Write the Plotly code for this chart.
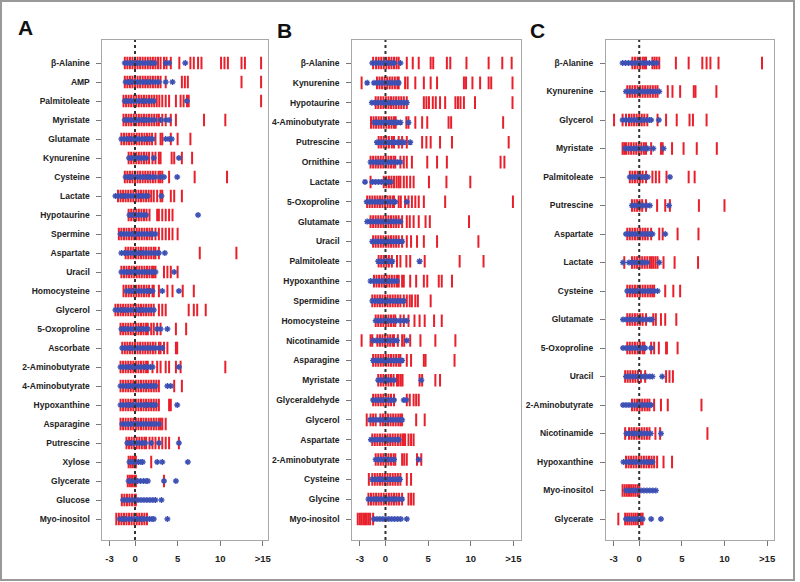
import plotly.graph_objects as go

# ---------------- Panel A ----------------
labels_A = ["β-Alanine", "AMP", "Palmitoleate", "Myristate", "Glutamate", "Kynurenine",
            "Cysteine", "Lactate", "Hypotaurine", "Spermine", "Aspartate", "Uracil",
            "Homocysteine", "Glycerol", "5-Oxoproline", "Ascorbate", "2-Aminobutyrate",
            "4-Aminobutyrate", "Hypoxanthine", "Asparagine", "Putrescine", "Xylose",
            "Glycerate", "Glucose", "Myo-inositol"]
red_A = [
    [-1.2,-0.9,-0.6,-0.3,0,0.3,0.6,0.9,1.2,1.5,1.8,2.1,2.4,2.7,3.0,3.4,3.7,4.2,5.2,6.5,6.9,7.4,7.8,10.1,10.5,10.9,12.5,12.9,14.8],
    [-1.2,-0.9,-0.6,-0.3,0,0.3,0.6,0.9,1.2,1.5,1.8,2.1,2.4,2.7,3.0,3.6,5.5,5.85,6.2,12.5,14.8],
    [-1.35,-1.05,-0.75,-0.45,-0.15,0.15,0.45,0.75,1.05,1.35,1.65,1.95,2.25,2.55,2.85,3.2,3.6,4.0,4.8,5.35,5.7,6.1,6.3,14.8],
    [-1.35,-1.05,-0.75,-0.45,-0.15,0.15,0.45,0.75,1.05,1.35,1.65,1.95,2.25,2.55,2.8,3.2,3.6,4.2,4.8,8.1,10.6],
    [-1.6,-1.3,-1.0,-0.7,-0.4,-0.1,0.2,0.5,0.8,1.1,1.4,1.7,2.0,2.4,3.0,3.2,4.2,5.0,6.5],
    [-0.75,-0.45,-0.15,0.15,0.45,0.75,1.05,1.35,1.65,2.05,2.4,2.8,3.0,4.3,4.6,5.5,6.7],
    [-1.2,-0.9,-0.6,-0.3,0,0.3,0.6,0.9,1.2,1.5,1.8,2.1,2.4,2.75,2.95,3.2,4.0,7.0,10.8],
    [-2.0,-1.7,-1.4,-1.1,-0.8,-0.5,-0.2,0.1,0.4,0.7,1.0,1.3,1.6,1.9,2.2,2.6,3.0,3.2,4.2,4.6,5.5],
    [-0.75,-0.45,-0.15,0.15,0.45,0.75,1.05,1.35,1.7,2.6,2.8,3.2,3.6,4.0,4.4],
    [-1.9,-1.6,-1.3,-1.0,-0.7,-0.4,-0.1,0.2,0.5,0.8,1.1,1.4,1.7,2.0,2.4,2.8,3.2,3.6,4.0,4.4,5.0],
    [-1.1,-0.8,-0.5,-0.2,0.1,0.4,0.7,1.0,1.3,1.6,1.9,2.2,2.4,2.8,7.6,11.9],
    [-1.6,-1.3,-1.0,-0.7,-0.4,-0.1,0.2,0.5,0.8,1.1,1.4,1.7,2.0,2.2,2.4,3.4,3.8,4.2,5.0],
    [-1.35,-1.05,-0.75,-0.45,-0.15,0.15,0.45,0.75,1.05,1.35,1.65,2.05,2.2,2.8,3.8,4.4,5.6,6.9],
    [-2.3,-2.0,-1.7,-1.4,-1.1,-0.8,-0.5,-0.2,0.1,0.4,0.7,1.0,1.3,1.6,1.9,2.2,2.8,3.2,3.6,6.3,6.9,7.3,8.3],
    [-1.7,-1.4,-1.1,-0.8,-0.5,-0.2,0.1,0.4,0.7,1.0,1.3,1.5,1.9,2.2,2.6,3.0,4.8,6.0],
    [-1.5,-1.2,-0.9,-0.6,-0.3,0,0.3,0.6,0.9,1.2,1.5,1.8,2.1,2.4,2.8,3.0,3.4,3.8,4.8,4.95],
    [-1.7,-1.4,-1.1,-0.8,-0.5,-0.2,0.1,0.4,0.7,1.0,1.3,1.5,2.05,2.6,3.0,3.6,4.0,4.8,5.35,10.6],
    [-1.7,-1.4,-1.1,-0.8,-0.5,-0.2,0.1,0.4,0.7,1.0,1.3,1.6,1.9,2.2,2.5,2.8,4.6,5.5],
    [-1.7,-1.4,-1.1,-0.8,-0.5,-0.2,0.1,0.4,0.7,1.0,1.3,1.6,1.9,2.2,2.5,2.8,4.0,4.2],
    [-1.7,-1.4,-1.1,-0.8,-0.5,-0.2,0.1,0.4,0.7,1.0,1.3,1.6,1.9,2.2,2.5,2.8,3.0,3.2,3.6],
    [-1.0,-0.7,-0.4,-0.1,0.2,0.5,0.8,1.1,1.3,1.7,2.05,2.4,2.8,3.2,3.6,4.0,5.15],
    [-0.75,-0.5,-0.25,0,0.1,1.9],
    [-0.85,-0.6,-0.35,-0.1,0.1,3.4],
    [-1.55,-1.25,-0.95,-0.65,-0.35,-0.05,0.1],
    [-2.2,-1.9,-1.6,-1.3,-1.0,-0.7,-0.4,-0.1,0.2,0.5,0.8,1.1,1.4],
]
blue_A = [
    [-1.2,-0.85,-0.5,-0.15,0.2,0.55,0.9,1.25,1.6,1.95,2.3,3.6,4.0,5.9],
    [-1.1,-0.75,-0.4,-0.05,0.3,0.65,1.0,1.35,1.7,2.05,2.4,2.8,3.6,4.4],
    [-1.2,-0.85,-0.5,-0.15,0.2,0.55,0.9,1.25,1.6,1.9,2.2,6.1],
    [-1.2,-0.85,-0.5,-0.15,0.2,0.55,0.9,1.25,1.6,1.95,2.3,3.0,3.6,4.0],
    [-1.6,-1.25,-0.9,-0.55,-0.2,0.15,0.5,0.85,1.2,1.55,1.9,2.05,3.6,4.0,4.3],
    [-0.7,-0.35,0,0.35,0.7,1.0,1.3,2.2,5.15],
    [-1.1,-0.75,-0.4,-0.05,0.3,0.65,1.0,1.35,1.7,2.05,2.4,3.0,3.4,4.95],
    [-2.3,-1.95,-1.6,-1.25,-0.9,-0.55,-0.2,0.15,0.5,0.85,1.2,1.5,3.1],
    [-0.65,-0.3,0.05,0.4,0.75,1.05,1.3,7.4],
    [-1.7,-1.35,-1.0,-0.65,-0.3,0.05,0.4,0.75,1.1,1.45,1.8,2.1,2.4],
    [-1.6,-1.25,-0.9,-0.55,-0.2,0.15,0.5,0.85,1.2,1.55,1.9,2.25,2.6,2.8,3.5],
    [-1.6,-1.25,-0.9,-0.55,-0.2,0.15,0.5,0.85,1.2,1.55,1.9,2.2,2.4,4.6],
    [-1.0,-0.65,-0.3,0.05,0.4,0.75,1.1,1.45,1.8,2.05,3.2,5.15],
    [-2.3,-1.95,-1.6,-1.25,-0.9,-0.55,-0.2,0.15,0.5,0.85,1.2,1.55,1.9,2.2],
    [-1.6,-1.25,-0.9,-0.55,-0.2,0.15,0.5,0.85,1.2,1.5,2.6,3.0,3.8],
    [-1.5,-1.15,-0.8,-0.45,-0.1,0.25,0.6,0.95,1.3,1.65,2.0,2.35,2.8,3.2],
    [-1.7,-1.35,-1.0,-0.65,-0.3,0.05,0.4,0.75,1.1,1.45,1.8,2.05,5.15],
    [-1.7,-1.35,-1.0,-0.65,-0.3,0.05,0.4,0.75,1.1,1.45,1.8,2.1,2.4,3.8,4.2],
    [-1.7,-1.35,-1.0,-0.65,-0.3,0.05,0.4,0.75,1.1,1.45,1.8,2.1,2.4,4.95],
    [-1.5,-1.15,-0.8,-0.45,-0.1,0.25,0.6,0.95,1.3,1.65,2.0,2.35,2.8],
    [-0.9,-0.55,-0.2,0.15,0.5,0.85,1.2,1.9,2.8,5.15],
    [-0.65,-0.3,0.05,0.4,0.7,0.9,2.6,3.2,6.2],
    [-0.75,-0.4,-0.05,0.3,0.65,1.0,1.3,1.5,3.4,4.8],
    [-1.4,-1.05,-0.7,-0.35,0,0.35,0.7,1.05,1.4,1.75,2.1,2.4,3.1],
    [-1.8,-1.45,-1.1,-0.75,-0.4,-0.05,0.3,0.65,1.0,1.35,1.7,2.0,2.2,3.8],
]

# ---------------- Panel B ----------------
labels_B = ["β-Alanine", "Kynurenine", "Hypotaurine", "4-Aminobutyrate", "Putrescine",
            "Ornithine", "Lactate", "5-Oxoproline", "Glutamate", "Uracil", "Palmitoleate",
            "Hypoxanthine", "Spermidine", "Homocysteine", "Nicotinamide", "Asparagine",
            "Myristate", "Glyceraldehyde", "Glycerol", "Aspartate", "2-Aminobutyrate",
            "Cysteine", "Glycine", "Myo-inositol"]
red_B = [
    [-1.45,-1.1,-0.8,-0.5,-0.2,0.1,0.4,0.7,1.0,1.3,1.55,2.5,3.2,3.9,5.3,5.6,7.2,7.6,9.5,12.1,13.7,14.8],
    [-2.8,-1.0,-0.7,-0.4,-0.1,0.2,0.5,0.8,1.1,1.4,1.55,2.3,2.6,3.5,4.5,5.3,6.05,9.2,9.45,10.2,11.1,12.1,12.4,14.9],
    [-1.15,-0.85,-0.55,-0.25,0.05,0.35,0.65,0.95,1.25,1.55,1.85,2.15,2.5,4.5,4.8,5.1,5.55,5.9,6.4,7.0,8.2,8.5,8.8,9.2,10.5,14.9],
    [-1.7,-1.4,-1.1,-0.8,-0.5,-0.2,0.1,0.4,0.7,1.0,1.2,2.45,2.7,3.5,4.3,4.9,7.4,7.7,13.8],
    [-0.8,-0.5,-0.2,0.1,0.4,0.75,1.0,1.55,1.95,2.5,4.3,4.8,5.3,6.4,7.8,14.45],
    [-1.75,-1.45,-1.15,-0.85,-0.55,-0.25,0.05,0.35,0.65,0.95,1.15,1.75,2.15,2.5,3.1,4.9,6.05,7.2,13.5,13.95],
    [-1.75,-0.2,0.1,0.4,0.7,1.0,1.3,1.55,1.75,2.15,2.5,2.9,3.3,5.1,7.15,9.95],
    [-2.15,-1.85,-1.55,-1.25,-0.95,-0.65,-0.35,-0.05,0.25,0.55,0.85,1.0,1.55,1.8,2.3,2.7,3.1,3.5,3.9,4.5,7.0,14.95],
    [-1.75,-1.45,-1.15,-0.85,-0.55,-0.25,0.05,0.35,0.65,0.95,1.25,1.55,1.95,2.5,2.85,3.3,3.9,4.7,5.2,9.8],
    [-1.45,-1.15,-0.85,-0.55,-0.25,0.05,0.35,0.65,0.95,1.25,1.55,1.95,2.5,3.0,3.7,4.5,6.05,10.9],
    [-0.8,-0.5,-0.2,0.1,0.4,0.75,1.35,1.75,2.45,2.9,4.6,8.7,11.5],
    [-1.35,-1.05,-0.75,-0.45,-0.15,0.15,0.45,0.75,1.05,1.35,1.55,1.95,2.15,2.9,3.6,4.5,4.9,6.25,6.6,7.8],
    [-1.55,-1.25,-0.95,-0.65,-0.35,-0.05,0.25,0.55,0.85,1.15,1.45,1.75,2.15,2.5,2.85,3.1,3.5,3.8,5.3],
    [-1.15,-0.85,-0.55,-0.25,0.05,0.35,0.65,0.95,1.15,1.75,2.15,2.7,3.4,4.0,4.6,5.7,6.6],
    [-2.8,-1.75,-1.55,-0.95,-0.65,-0.35,-0.05,0.25,0.55,0.85,1.0,1.45,1.95,2.2,2.9,4.1,5.85,8.2],
    [-1.45,-1.15,-0.85,-0.55,-0.25,0.05,0.35,0.65,0.95,1.25,1.55,1.75,2.5,3.0,4.5,4.7,8.1],
    [-0.85,-0.55,-0.25,0.05,0.35,0.65,0.95,1.35,1.55,1.8,2.0,4.0,4.3,5.85,6.4],
    [-1.45,-1.15,-0.85,-0.55,-0.25,0.05,0.35,0.65,1.0,2.5,2.85,3.3,3.6,3.9],
    [-2.2,-1.75,-1.45,-1.15,-0.6,-0.3,0,0.3,0.6,0.9,1.2,1.5,1.75,1.95,3.6,4.6],
    [-1.55,-1.25,-0.95,-0.65,-0.35,-0.05,0.25,0.55,0.85,1.15,1.45,1.75,2.0,2.15,2.3,2.7,3.0,3.3],
    [-1.15,-0.85,-0.55,-0.25,0.05,0.35,0.65,0.95,1.15,1.95,2.2,2.5,3.7,4.2],
    [-1.95,-1.55,-1.25,-0.95,-0.65,-0.35,-0.05,0.25,0.55,0.85,1.15,1.45,1.75,2.5,3.0],
    [-2.0,-1.7,-1.4,-1.1,-0.8,-0.5,-0.2,0.1,0.4,0.7,1.0,1.3,1.6,1.95,2.7,3.0,3.3],
    [-3.25,-3.0,-2.8,-2.6,-2.4,-2.2,-2.0,-1.8,-1.45],
]
blue_B = [
    [-1.55,-1.2,-0.85,-0.5,-0.15,0.2,0.55,0.9,1.0,1.75],
    [-2.15,-1.35,-1.0,-0.65,-0.3,0.05,0.4,0.75,1.1,1.45,1.55],
    [-1.6,-1.25,-0.9,-0.55,-0.2,0.15,0.5,0.85,1.2,1.55,1.9,2.25,2.5],
    [-1.3,-0.95,-0.6,-0.25,0.1,0.45,0.8,1.15,1.35,1.75,2.7],
    [-1.0,-0.65,-0.3,0.05,0.4,0.75,1.1,1.45,1.75,2.15,2.9],
    [-1.75,-1.4,-1.05,-0.7,-0.35,0,0.35,0.7,1.05,1.4,1.75],
    [-2.4,-1.55,-1.2,-0.85,-0.5,-0.15,0.2,0.6],
    [-2.2,-1.85,-1.5,-1.15,-0.8,-0.45,-0.1,0.25,0.6,0.95,1.15,2.5],
    [-2.15,-1.8,-1.45,-1.1,-0.75,-0.4,-0.05,0.3,0.65,1.0,1.35,1.75],
    [-1.55,-1.2,-0.85,-0.5,-0.15,0.2,0.55,0.9,1.25,1.6,1.95],
    [-0.85,-0.5,-0.15,0.2,0.55,0.8,4.0],
    [-1.75,-1.4,-1.05,-0.7,-0.35,0,0.35,0.7,1.05,1.35],
    [-1.55,-1.2,-0.85,-0.5,-0.15,0.2,0.55,0.9,1.25,1.6,1.95,2.15],
    [-1.15,-0.8,-0.45,-0.1,0.25,0.6,0.95,1.3,1.75,2.15,2.5],
    [-1.45,-1.1,-0.75,-0.4,-0.05,0.3,0.65,1.0,1.35,2.5],
    [-1.45,-1.1,-0.75,-0.4,-0.05,0.3,0.65,1.0,1.35,1.75,1.95],
    [-0.85,-0.5,-0.15,0.2,0.55,1.0,4.2],
    [-1.45,-1.1,-0.75,-0.4,-0.05,0.3,0.65,1.0,2.15,2.45],
    [-1.8,-1.45,-1.1,-0.75,-0.4,-0.05,0.3,0.65,1.0,1.35,1.7,1.95],
    [-1.7,-1.35,-1.0,-0.65,-0.3,0.05,0.4,0.75,1.1,1.45,1.55],
    [-1.15,-0.8,-0.45,-0.1,0.25,0.6,1.0,3.9],
    [-1.55,-1.2,-0.85,-0.5,-0.15,0.2,0.55,0.9,1.25,1.6,1.7],
    [-2.0,-1.65,-1.3,-0.95,-0.6,-0.25,0.1,0.45,0.8,1.15,1.5,1.95],
    [-1.35,-1.0,-0.65,-0.3,0.05,0.4,0.75,1.1,1.45,1.8,2.5],
]

# ---------------- Panel C ----------------
labels_C = ["β-Alanine", "Kynurenine", "Glycerol", "Myristate", "Palmitoleate", "Putrescine",
            "Aspartate", "Lactate", "Cysteine", "Glutamate", "5-Oxoproline", "Uracil",
            "2-Aminobutyrate", "Nicotinamide", "Hypoxanthine", "Myo-inositol", "Glycerate"]
red_C = [
    [-0.8,-0.5,-0.2,0.1,0.4,0.6,0.8,1.55,1.8,2.05,2.35,4.3,5.8,7.4,7.9,8.35,9.3,14.4],
    [-1.4,-1.1,-0.8,-0.5,-0.2,0.1,0.4,0.7,1.0,1.3,1.6,1.9,2.15,3.35,3.9,4.8,6.4,6.6,9.05],
    [-2.95,-1.95,-1.55,-1.2,-0.9,-0.6,-0.3,0,0.3,0.6,0.95,2.15,3.15,4.4,5.9,6.3,7.9],
    [-1.95,-1.75,-1.55,-1.25,-0.95,-0.65,-0.35,-0.05,0.25,0.55,0.8,1.4,2.55,2.75,3.85,5.2,6.75,9.1],
    [-1.1,-0.8,-0.5,-0.2,0.1,0.4,0.8,1.55,1.95,2.35,3.2,5.8,6.5],
    [-0.85,-0.55,-0.25,0.05,0.35,0.8,2.1,3.05,3.6,7.0,10.0],
    [-1.4,-1.1,-0.8,-0.5,-0.2,0.1,0.4,0.7,1.0,1.4,2.35,2.75,4.5,6.95],
    [-1.75,-0.85,-0.55,-0.25,0.05,0.35,0.65,0.95,1.25,1.45,1.65,1.9,2.15,2.85,4.15,6.9],
    [-1.4,-1.1,-0.8,-0.5,-0.2,0.1,0.4,0.7,1.0,1.3,1.55,1.75,3.05,4.0,4.8],
    [-1.4,-1.1,-0.8,-0.5,-0.2,0.1,0.4,0.8,1.65,1.95,2.55,3.05,4.35],
    [-1.4,-1.1,-0.8,-0.5,-0.2,0.1,0.4,0.6,1.4,1.75,2.3,3.15,3.25,4.5],
    [-1.65,-1.35,-1.05,-0.75,-0.45,-0.15,0.2,0.7,3.15,3.55,3.95],
    [-0.85,-0.55,-0.25,0.05,0.35,0.65,0.95,1.2,1.75,2.55,3.35,7.3],
    [-1.65,-1.2,-0.9,-0.6,-0.3,0,0.3,0.6,0.9,1.2,1.9,2.45,8.0],
    [-1.55,-1.25,-0.95,-0.65,-0.35,-0.05,0.25,0.55,0.85,1.15,1.45,1.75,2.1,2.85,3.85],
    [-1.95,-1.7,-1.45,-1.2,-0.95,-0.7,-0.45,-0.2,0],
    [-2.45,-1.65,-1.4,-1.15,-0.9,-0.65,-0.4,-0.15,0.2,0.4],
]
blue_C = [
    [-1.95,-1.6,-1.25,-0.9,-0.55,-0.2,0.15,0.5,0.85,1.2,1.65,2.05],
    [-1.55,-1.2,-0.85,-0.5,-0.15,0.2,0.55,0.9,1.25,1.6,1.95,2.35],
    [-1.95,-1.6,-1.25,-0.9,-0.55,-0.2,0.15,0.5,0.85,1.2,1.4,2.3],
    [-1.65,-1.3,-0.95,-0.6,-0.25,0.1,0.45,0.8,1.0,1.65,2.85],
    [-1.1,-0.75,-0.4,-0.05,0.3,0.65,1.0,3.6],
    [-0.85,-0.5,-0.15,0.2,0.55,0.9,1.25,3.5],
    [-1.55,-1.2,-0.85,-0.5,-0.15,0.2,0.55,0.9,1.25,1.55,3.05],
    [-1.9,-1.2,-0.85,-0.5,-0.15,0.2,0.55,0.95,2.35],
    [-1.4,-1.05,-0.7,-0.35,0,0.35,0.7,1.05,1.4,1.75,2.15],
    [-1.9,-1.55,-1.2,-0.85,-0.5,-0.15,0.2,0.55,0.9,1.25,1.5],
    [-1.9,-1.55,-1.2,-0.85,-0.5,-0.15,0.2,0.55,0.7,1.4],
    [-1.55,-1.2,-0.85,-0.5,-0.15,0.2,0.55,0.9,1.25,1.55,2.7],
    [-1.9,-1.55,-1.2,-0.85,-0.5,-0.15,0.2,0.55,0.9,1.2,1.4],
    [-1.5,-1.15,-0.8,-0.45,-0.1,0.25,0.6,0.95,1.35,2.55],
    [-1.85,-1.5,-1.15,-0.8,-0.45,-0.1,0.25,0.6,0.95,1.3,1.55],
    [-1.55,-1.2,-0.85,-0.5,-0.15,0.2,0.55,0.9,1.25,1.6,1.95],
    [-1.55,-1.2,-0.85,-0.5,-0.15,0.2,0.4,1.4,2.55],
]

x_tickvals = [-3, 0, 5, 10, 15]
x_ticktext = ["-3", "0", "5", "10", ">15"]
panel_letters = ["A", "B", "C"]

W, H = 800, 582
RED = "#e8202c"
BLUE = "#3c50b4"
LABEL_FONT = "Liberation Sans, Arial, sans-serif"

panels = [
    dict(labels=labels_A, red=red_A, blue=blue_A, px=(103, 269), xr=(-3.82, 15.57), letter=(25.5, 27.5)),
    dict(labels=labels_B, red=red_B, blue=blue_B, px=(354, 524), xr=(-3.9, 15.94), letter=(286, 30.5)),
    dict(labels=labels_C, red=red_C, blue=blue_C, px=(609, 778), xr=(-3.9, 15.82), letter=(540.5, 30)),
]
TOP, BOT = 40, 540          # plot box (px)
FIRST, LAST = 63, 519       # centre of first / last row (px)

fig = go.Figure()
shapes = []
annotations = []
for i, p in enumerate(panels):
    n = len(p["labels"])
    ax = "" if i == 0 else str(i + 1)
    xa, ya = "x" + ax, "y" + ax
    rx, ry = [], []
    for lab, vals in zip(p["labels"], p["red"]):
        rx += vals
        ry += [lab] * len(vals)
    bx, by = [], []
    for lab, vals in zip(p["labels"], p["blue"]):
        bx += vals
        by += [lab] * len(vals)
    fig.add_trace(go.Scatter(x=rx, y=ry, mode="markers", xaxis=xa, yaxis=ya, showlegend=False,
                             hoverinfo="skip",
                             marker=dict(symbol="line-ns-open", size=9, color=RED,
                                         line=dict(width=2, color=RED))))
    fig.add_trace(go.Scatter(x=bx, y=by, mode="markers", xaxis=xa, yaxis=ya, showlegend=False,
                             hoverinfo="skip",
                             marker=dict(symbol="asterisk-open", size=5, color=BLUE,
                                         line=dict(width=1.4, color=BLUE))))
    s = (LAST - FIRST) / (n - 1)
    pt = (FIRST - TOP) / s
    pb = (BOT - LAST) / s
    common = dict(showgrid=False, zeroline=False, showline=True, mirror=True,
                  linecolor="#a8a8a8", linewidth=1, ticks="outside", ticklen=5,
                  tickcolor="#777777", tickwidth=1)
    fig.layout["xaxis" + ax] = dict(
        domain=[p["px"][0] / W, p["px"][1] / W], range=list(p["xr"]),
        anchor=ya, tickvals=x_tickvals, ticktext=x_ticktext,
        tickfont=dict(family=LABEL_FONT, size=9.5, color="#222222", weight="bold"),
        ticklabelstandoff=5, **common)
    fig.layout["yaxis" + ax] = dict(
        domain=[1 - BOT / H, 1 - TOP / H], anchor=xa, type="category",
        categoryarray=p["labels"], categoryorder="array",
        range=[n - 1 + pb, -pt],
        tickfont=dict(family=LABEL_FONT, size=8.5, color="#222222", weight="bold"),
        ticklabelstandoff=5, **common)
    shapes.append(dict(type="line", xref=xa, yref=ya + " domain", x0=0, x1=0, y0=0, y1=1,
                       line=dict(color="#333333", width=2, dash="dot")))
    annotations.append(dict(text=panel_letters[i], xref="paper", yref="paper",
                            x=p["letter"][0] / W, y=1 - p["letter"][1] / H,
                            showarrow=False, xanchor="center", yanchor="middle",
                            font=dict(family="Liberation Sans, Arial, sans-serif", size=21,
                                      color="#111111", weight="bold")))

shapes.append(dict(type="rect", xref="paper", yref="paper",
                   x0=1 / W, x1=798 / W, y0=1 - 580 / H, y1=1 - 1 / H,
                   line=dict(color="#999999", width=2)))

fig.update_layout(width=W, height=H, margin=dict(l=0, r=0, t=0, b=0),
                  paper_bgcolor="white", plot_bgcolor="white",
                  shapes=shapes, annotations=annotations)
fig.write_html("out.html", config={"displayModeBar": False},
               post_script="document.body.style.margin='0';")
